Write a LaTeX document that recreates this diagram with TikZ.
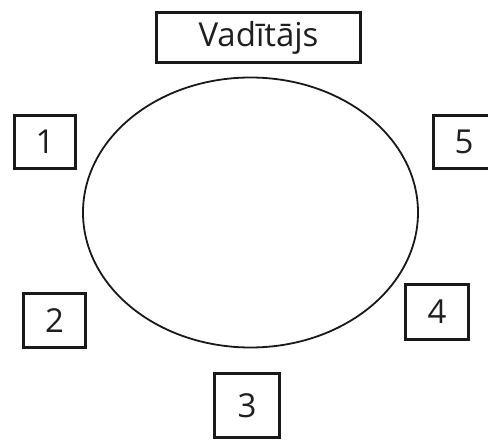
\documentclass[tikz,border=0pt]{standalone}
\usepackage{fontspec}
\setmainfont{Open Sans}
\usetikzlibrary{shapes.geometric}
\begin{document}
\begin{tikzpicture}[x=1pt,y=-1pt,
  seat/.style={draw=black!90, line width=2.7pt, inner sep=0pt,
    font=\fontsize{33}{33}\selectfont, text=black!88},
  table/.style={draw=black!90, line width=1.8pt, ellipse, inner sep=0pt}]
  \useasboundingbox (0,0) rectangle (488,441);
  \clip (0,0) rectangle (488,441);
  % round table
  \node[table, minimum width=335pt, minimum height=270pt] (table) at (250.5,212.5) {};
  % chair of the meeting
  \node[seat, minimum width=204pt, minimum height=50pt] (lead) at (258.5,37.5) {Vadītājs};
  % participants around the table
  \node[seat, minimum width=61.5pt, minimum height=53.5pt] (p1) at (45,142) {1};
  \node[seat, minimum width=62.5pt, minimum height=54.5pt] (p2) at (54.5,320.5) {2};
  \node[seat, minimum width=65.5pt, minimum height=64.5pt] (p3) at (247,405.5) {3};
  \node[seat, minimum width=63.5pt, minimum height=55.5pt] (p4) at (437,312) {4};
  \node[seat, minimum width=61.5pt, minimum height=53.5pt] (p5) at (464,142) {5};
\end{tikzpicture}
\end{document}
